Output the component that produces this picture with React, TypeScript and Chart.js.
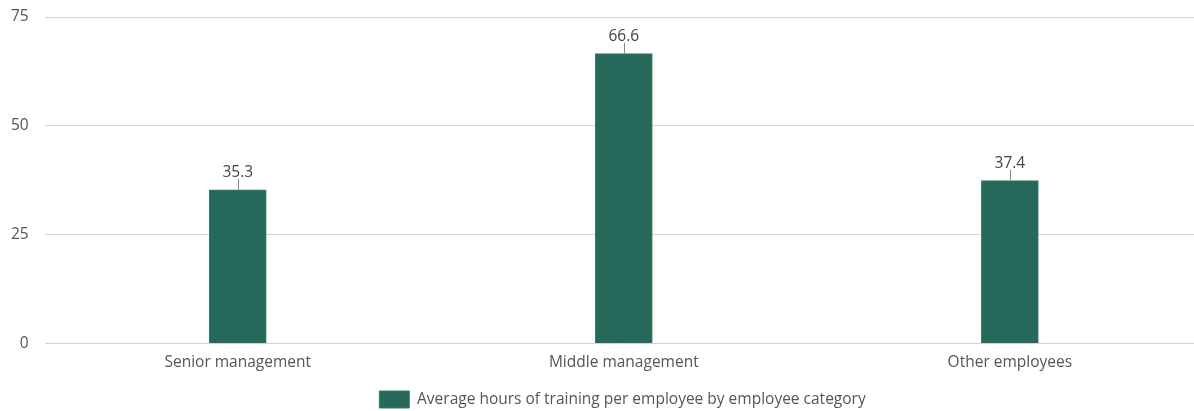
import React, { useEffect, useRef } from "react";
import { Chart, registerables } from "chart.js";

Chart.register(...registerables);

const CATEGORIES = ["Senior management", "Middle management", "Other employees"];
const VALUES = [35.3, 66.6, 37.4];
const SERIES_LABEL = "Average hours of training per employee by employee category";
const Y_TICKS = [0, 25, 50, 75];

const FONT = "'Open Sans', 'Noto Sans', sans-serif";
const BAR_COLOR = "#26685a";
const TEXT_COLOR = "#555555";

const valueLabels = {
  id: "valueLabels",
  afterDatasetsDraw(chart: any) {
    const ctx = chart.ctx;
    const meta = chart.getDatasetMeta(0);
    ctx.save();
    meta.data.forEach((bar: any, i: number) => {
      const x = Math.round(bar.x) + 0.5;
      const y = bar.y;
      ctx.strokeStyle = "#8a8a8a";
      ctx.lineWidth = 1;
      ctx.beginPath();
      ctx.moveTo(x, y);
      ctx.lineTo(x, y - 11);
      ctx.stroke();
      ctx.fillStyle = "#444444";
      ctx.font = `15.5px ${FONT}`;
      ctx.textAlign = "center";
      ctx.textBaseline = "bottom";
      ctx.fillText(String(VALUES[i]), bar.x, y - 9);
    });
    ctx.restore();
  },
};

// The original legend is centred on a slightly wider canvas; shift it to match.
const legendShift = {
  id: "legendShift",
  afterLayout(chart: any) {
    if (chart.legend) {
      chart.legend.left += 28;
      chart.legend.right += 28;
    }
  },
};

export default function App() {
  const ref = useRef<HTMLCanvasElement>(null);
  useEffect(() => {
    if (!ref.current) return;
    const chart = new Chart(ref.current, {
      type: "bar",
      data: {
        datasets: [
          {
            label: SERIES_LABEL,
            data: VALUES.map((v, i) => ({ x: i, y: v })),
            backgroundColor: BAR_COLOR,
            borderColor: "#3b7b6c",
            borderWidth: 1,
            barThickness: 57,
          },
        ],
      },
      options: {
        animation: false,
        responsive: true,
        maintainAspectRatio: false,
        layout: { padding: { top: 17, left: -5, right: 0, bottom: -7 } },
        scales: {
          x: {
            type: "linear",
            offset: false,
            min: -0.5,
            max: 2.477,
            grid: { display: false, offset: false },
            border: { display: false },
            afterBuildTicks: (s: any) => {
              s.ticks = CATEGORIES.map((_, i) => ({ value: i }));
            },
            afterFit: (s: any) => {
              s.height += 14;
            },
            ticks: {
              autoSkip: false,
              maxRotation: 0,
              padding: 2,
              color: TEXT_COLOR,
              font: { family: FONT, size: 15.5 },
              callback: (v: any) => CATEGORIES[v] ?? "",
            },
          },
          y: {
            min: 0,
            max: 75,
            afterBuildTicks: (s: any) => {
              s.ticks = Y_TICKS.map((v) => ({ value: v }));
            },
            afterFit: (s: any) => {
              s.paddingTop = 0;
              s.paddingBottom = 0;
            },
            grid: { color: "#d3d3d3", drawTicks: false, lineWidth: 1 },
            border: { display: false },
            ticks: {
              padding: 16,
              color: TEXT_COLOR,
              font: { family: FONT, size: 15.5 },
            },
          },
        },
        plugins: {
          legend: {
            position: "bottom",
            labels: {
              boxWidth: 30,
              boxHeight: 17,
              padding: 3,
              color: TEXT_COLOR,
              font: { family: FONT, size: 15.5 },
            },
          },
          tooltip: { enabled: false },
        },
      },
      plugins: [valueLabels, legendShift],
    });
    return () => chart.destroy();
  }, []);
  return (
    <div style={{ position: "fixed", left: 0, top: 0, width: 1194, height: 411, background: "#fff" }}>
      <canvas ref={ref} />
    </div>
  );
}
